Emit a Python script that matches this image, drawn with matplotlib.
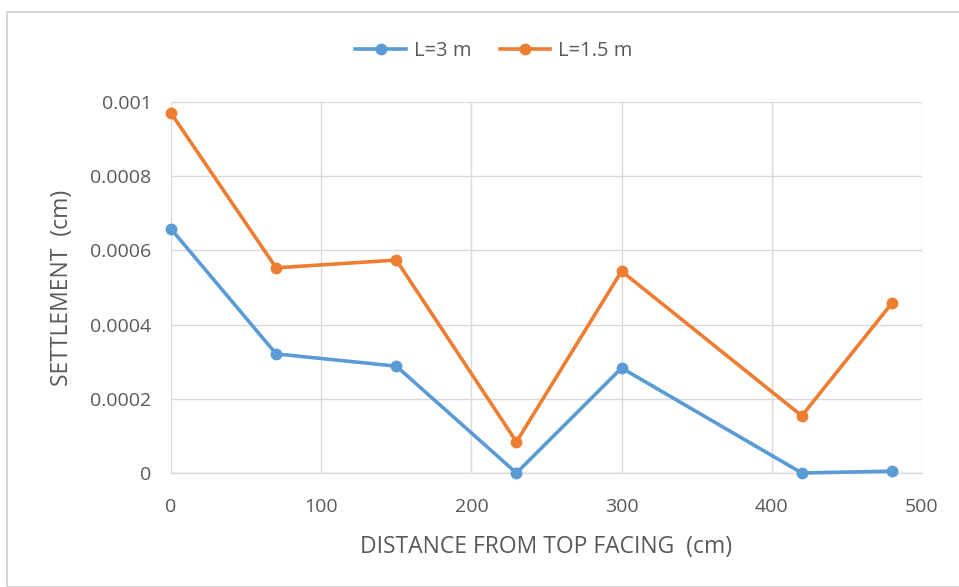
import matplotlib
matplotlib.use("Agg")
import matplotlib.pyplot as plt
from matplotlib.patches import Rectangle

# data
distance = [0, 70, 150, 230, 300, 420, 480]
settle_3m = [0.000658, 0.000321, 0.000288, 0.0, 0.000283, 0.0, 0.000005]
settle_1_5m = [0.00097, 0.000553, 0.000574, 0.000084, 0.000544, 0.000154, 0.000458]
x_ticks = [0, 100, 200, 300, 400, 500]
y_ticks = [0, 0.0002, 0.0004, 0.0006, 0.0008, 0.001]
y_labels = ["0", "0.0002", "0.0004", "0.0006", "0.0008", "0.001"]

BLUE = "#5b9bd5"
ORANGE = "#ed7d31"
TEXT = "#595959"
GRID = "#d9d9d9"

plt.rcParams["font.family"] = ["Open Sans", "DejaVu Sans"]

fig = plt.figure(figsize=(9.59, 5.87), dpi=100)
W, H = 959, 587
fig.patches.append(Rectangle((7 / W, 0), 1.0, 1 - 12 / H, transform=fig.transFigure,
                             fill=False, edgecolor="#d0d0d0", linewidth=1.2))

ax = fig.add_axes([171 / W, 1 - 473 / H, (922 - 171) / W, (473 - 102) / H])
ax.plot(distance, settle_3m, color=BLUE, lw=2.6, marker="o", ms=7.5, label="L=3 m",
        clip_on=False, zorder=3)
ax.plot(distance, settle_1_5m, color=ORANGE, lw=2.6, marker="o", ms=7.5, label="L=1.5 m",
        clip_on=False, zorder=3)

ax.set_xlim(0, 500)
ax.set_ylim(0, 0.001)
ax.set_xticks(x_ticks)
ax.set_yticks(y_ticks)
ax.set_yticklabels(y_labels)
ax.grid(True, color=GRID, lw=1)
ax.set_axisbelow(True)
for side in ["top", "right", "left"]:
    ax.spines[side].set_visible(False)
ax.spines["bottom"].set_color(GRID)
ax.spines["bottom"].set_linewidth(1)
ax.tick_params(length=0, labelsize=14, colors=TEXT)
ax.tick_params(axis="x", pad=18)
ax.tick_params(axis="y", pad=14)

ax.set_xlabel("DISTANCE FROM TOP FACING  (cm)", fontsize=16.5, color=TEXT, labelpad=14)
ax.set_ylabel("SETTLEMENT  (cm)", fontsize=16.5, color=TEXT, labelpad=12)

leg = fig.legend(loc="center", bbox_to_anchor=(0.515, 1 - 51 / H), ncol=2, frameon=False,
                 fontsize=14.5, handlelength=2.5, columnspacing=1.4, handletextpad=0.4)
for t in leg.get_texts():
    t.set_color(TEXT)

fig.savefig("out.png", dpi=100, facecolor="white")
